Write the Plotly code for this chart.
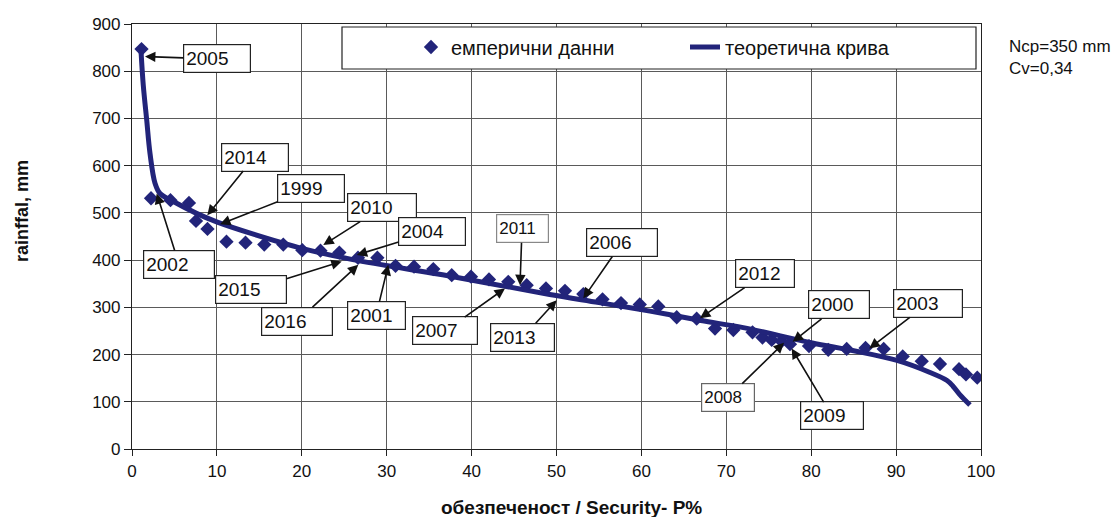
import plotly.graph_objects as go

# ---- data ----
emp_p = [1.12, 2.24, 4.53, 6.71, 7.54, 8.89, 11.13, 13.37, 15.58, 17.82,
         20.06, 22.2, 24.42, 26.62, 28.9, 31.04, 33.22, 35.49, 37.66, 39.93,
         42.05, 44.32, 46.49, 48.76, 51.0, 53.16, 55.42, 57.6, 59.81, 61.99,
         64.16, 66.51, 68.67, 70.83, 73.09, 74.26, 75.35, 76.5, 77.5, 79.74,
         82.01, 84.18, 86.4, 88.54, 90.78, 93.02, 95.17, 97.41, 98.23, 99.56]
emp_mm = [847, 531, 527, 521, 483, 466, 439, 437, 433, 433,
          421, 420, 416, 405, 405, 388, 386, 381, 368, 365,
          359, 354, 347, 340, 335, 328, 317, 309, 306, 302,
          279, 276, 255, 252, 247, 236, 231, 228, 222, 218,
          210, 212, 214, 212, 196, 186, 180, 169, 158, 151]

theo_p = [1.06, 1.33, 1.73, 2.12, 2.71, 3.3, 4.87, 7.6, 9.97, 14.3, 20, 26,
          37.5, 49.2, 55, 61, 67, 72, 80, 85, 90, 94, 96, 96.7, 97.5, 98.7]
theo_mm = [843, 770, 697, 626, 563, 541, 524, 499, 481, 455, 425, 401,
           366, 327, 310, 292, 272, 257, 225, 208, 188, 162, 145, 133, 115, 93]

label_years = ["2005", "2014", "1999", "2010", "2004", "2002", "2015", "2016", "2001",
               "2007", "2011", "2013", "2006", "2012", "2000", "2003", "2008", "2009"]
label_tip_p = [1.53, 8.87, 10.37, 22.53, 26.47, 2.91, 24.7, 26.65, 30.19,
               43.93, 45.7, 50.02, 53.16, 66.9, 77.82, 86.84, 76.8, 77.7]
label_tip_mm = [831, 495, 476, 432, 411, 541, 397, 390, 390,
                340, 347, 315, 319, 277, 227, 213, 225, 213]

# label box centres (layout), box widths, font sizes, border colours
box_p = [10.01, 14.43, 21.08, 29.45, 35.34, 5.54, 14.02, 19.49, 28.74,
         36.87, 45.94, 46.05, 57.71, 74.56, 83.27, 93.76, 70.2, 82.45]
box_mm = [826, 618, 551, 511, 460, 391, 337, 271, 282,
          250, 466, 237, 437, 371, 305, 308, 109, 70]
box_w = [68, 68, 68, 70, 68, 72, 72, 72, 59, 66, 53, 65, 72, 60, 62, 70, 54, 64]
box_fs = [19, 19, 19, 19, 19, 19, 19, 19, 19, 19, 17, 19, 19, 19, 19, 19, 17, 19]
box_bc = ["#222"] * 10 + ["#888"] + ["#222"] * 5 + ["#666", "#222"]

NAVY = "#22247a"
FONT = "Liberation Sans, Arial, sans-serif"

fig = go.Figure()
fig.add_trace(go.Scatter(
    x=emp_p, y=emp_mm, mode="markers", name="емперични данни",
    marker=dict(symbol="diamond", size=11, color=NAVY),
))
fig.add_trace(go.Scatter(
    x=theo_p, y=theo_mm, mode="lines", name="теоретична крива",
    line=dict(color=NAVY, width=5), line_shape="spline",
))

annotations = []
for yr, tx, ty, bx, by, w, fs, bc in zip(label_years, label_tip_p, label_tip_mm,
                                         box_p, box_mm, box_w, box_fs, box_bc):
    annotations.append(dict(
        x=tx, y=ty, xref="x", yref="y", ax=bx, ay=by, axref="x", ayref="y",
        text=yr, showarrow=True, arrowhead=2, arrowsize=1.3, arrowwidth=1.6,
        arrowcolor="#111", font=dict(family=FONT, size=fs, color="#111"),
        bgcolor="white", bordercolor=bc, borderwidth=1.2, borderpad=2,
        width=w - 6, height=23, align="left", valign="middle",
    ))

annotations.append(dict(
    x=(1007 - 132) / 849, y=(449 - 58) / 425, xref="paper", yref="paper",
    xanchor="left", yanchor="middle", showarrow=False, align="left",
    text="Nср=350 mm<br>Cv=0,34", font=dict(family=FONT, size=17, color="#111"),
))
annotations.append(dict(
    x=(22 - 132) / 849, y=(449 - 211) / 425, xref="paper", yref="paper",
    xanchor="center", yanchor="middle", showarrow=False, textangle=-90,
    text="<b>rainffal, mm</b>", font=dict(family=FONT, size=18, color="#111"),
))
annotations.append(dict(
    x=(571 - 132) / 849, y=(449 - 507) / 425, xref="paper", yref="paper",
    xanchor="center", yanchor="middle", showarrow=False,
    text="<b>обезпеченост / Security- P%</b>", font=dict(family=FONT, size=19, color="#111"),
))

fig.update_layout(
    width=1116, height=517,
    margin=dict(l=132, r=135, t=24, b=68),
    plot_bgcolor="white", paper_bgcolor="white",
    font=dict(family=FONT, size=17, color="#111"),
    showlegend=True,
    legend=dict(
        orientation="h", x=(411 - 132) / 849, y=(449 - 47) / 425,
        xanchor="left", yanchor="middle", bgcolor="rgba(0,0,0,0)",
        borderwidth=0, font=dict(family=FONT, size=20, color="#111"),
        entrywidth=229,
    ),
    shapes=[dict(
        type="rect", xref="paper", yref="paper",
        x0=(342 - 132) / 849, x1=(976 - 132) / 849,
        y0=(449 - 69) / 425, y1=(449 - 27) / 425,
        line=dict(color="#222", width=1.2), fillcolor="white", layer="above",
    )],
    annotations=annotations,
)
fig.update_xaxes(
    range=[0, 100], dtick=10, tick0=0, showgrid=True, gridcolor="#5a5a5a", gridwidth=1,
    showline=True, linecolor="#222", linewidth=1.2, ticks="outside", ticklen=6,
    tickcolor="#222", zeroline=False, mirror=True,
)
fig.update_yaxes(
    range=[0, 900], dtick=100, tick0=0, showgrid=True, gridcolor="#5a5a5a", gridwidth=1,
    showline=True, linecolor="#222", linewidth=1.2, ticks="outside", ticklen=7,
    tickcolor="#222", zeroline=False, mirror=True,
)

fig.write_html("out.html", config={"displayModeBar": False},
               post_script="document.body.style.margin='0px';")
